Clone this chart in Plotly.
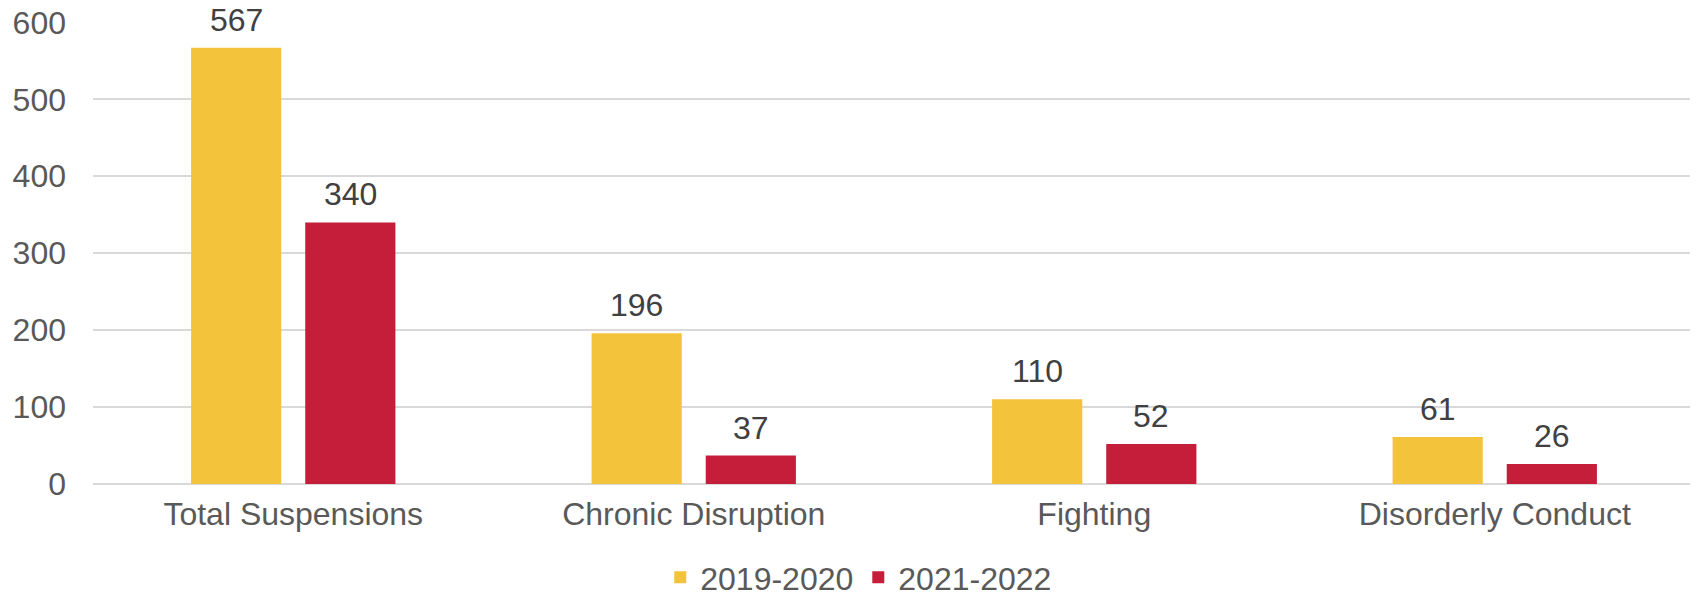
import plotly.graph_objects as go

categories = ["Total Suspensions", "Chronic Disruption", "Fighting", "Disorderly Conduct"]
series_names = ["2019-2020", "2021-2022"]
values_2019 = [567, 196, 110, 61]
values_2021 = [340, 37, 52, 26]
y_ticks = [0, 100, 200, 300, 400, 500, 600]

colors = ["#F3C33B", "#C41E3A"]
FONT = "Liberation Sans, Arial, sans-serif"
FS = 32

fig = go.Figure()
for name, vals, col in zip(series_names, [values_2019, values_2021], colors):
    fig.add_trace(go.Bar(x=categories, y=vals, name=name, marker=dict(color=col, line=dict(width=0)),
                         cliponaxis=False, hoverinfo="x+y+name"))

# data labels
shift = 57
for vals, sx in zip([values_2019, values_2021], [-shift, shift]):
    for c, v in zip(categories, vals):
        fig.add_annotation(x=c, y=v, xref="x", yref="y", text=str(v), showarrow=False,
                           xshift=sx, yanchor="bottom", yshift=8,
                           font=dict(family=FONT, size=FS, color="#404040"))

fig.update_layout(
    width=1690, height=587,
    margin=dict(l=85, r=3, t=14, b=111, autoexpand=False),
    paper_bgcolor="white", plot_bgcolor="white",
    barmode="group", bargap=0.43, bargroupgap=0.21,
    font=dict(family=FONT, size=FS, color="#595959"),
    showlegend=True,
    legend=dict(orientation="h", xref="paper", x=0.478, xanchor="center",
                yref="container", y=0.03, yanchor="middle",
                font=dict(family=FONT, size=FS, color="#595959"),
                itemwidth=30, tracegroupgap=0),
    xaxis=dict(showgrid=False, showline=False, zeroline=False, ticks="",
               tickfont=dict(family=FONT, size=FS, color="#595959"), ticklabelstandoff=8),
    yaxis=dict(range=[0, 600.5], tickvals=y_ticks, showgrid=True, gridcolor="#D9D9D9", gridwidth=1.5,
               zeroline=True, zerolinecolor="#D9D9D9", zerolinewidth=1.5, showline=False,
               ticks="", tickfont=dict(family=FONT, size=FS, color="#595959"), ticklabelstandoff=26,
               ticklabeloverflow="allow", automargin=False),
)

fig.write_html("out.html")
